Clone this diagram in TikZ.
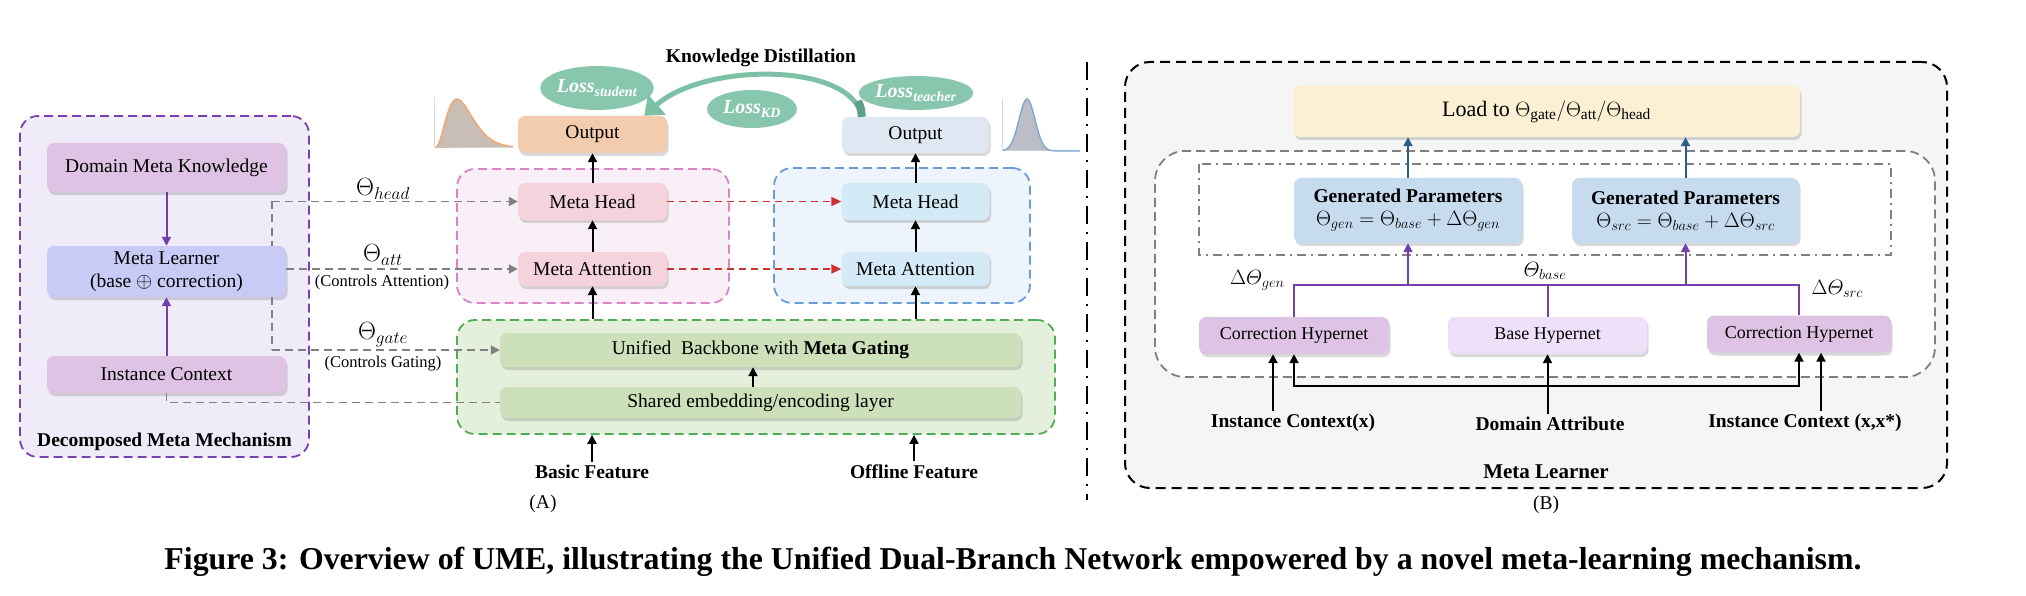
\documentclass[tikz,border=0pt]{standalone}
\usepackage{amsmath}
\usepackage{graphicx}
\usepackage{fontspec}
\setmainfont{Liberation Serif}
\usetikzlibrary{positioning,calc,arrows.meta,shadows,shapes.geometric}
\definecolor{mmfill}{HTML}{EFEBF8}
\definecolor{mmline}{HTML}{7B3FB2}
\definecolor{dmkfill}{HTML}{DFC3E5}
\definecolor{mlfill}{HTML}{C8CBF6}
\definecolor{purp}{HTML}{7340A8}
\definecolor{pinkline}{HTML}{DA84C6}
\definecolor{pinkfill}{HTML}{F9F0F7}
\definecolor{pinkbox}{HTML}{F5D3DC}
\definecolor{peach}{HTML}{F2CCAD}
\definecolor{blueline}{HTML}{6B9CD8}
\definecolor{bluefill}{HTML}{EDF4FB}
\definecolor{bluebox}{HTML}{D5EAF7}
\definecolor{toutfill}{HTML}{DFE8F2}
\definecolor{greenline}{HTML}{4DAF52}
\definecolor{greenfill}{HTML}{E5F0DC}
\definecolor{greenbox}{HTML}{CCE0BA}
\definecolor{redarr}{HTML}{CC3030}
\definecolor{loss}{HTML}{88C7AE}
\definecolor{kd}{HTML}{7CC1A6}
\definecolor{kddark}{HTML}{5E9F88}
\definecolor{panelfill}{HTML}{F5F5F5}
\definecolor{loadfill}{HTML}{FBF0D3}
\definecolor{genfill}{HTML}{C7DBEF}
\definecolor{basefill}{HTML}{EEE0F8}
\definecolor{navy}{HTML}{2E5C88}
\definecolor{studfill}{HTML}{C9BEB5}
\definecolor{studline}{HTML}{F2A469}
\definecolor{teachfill}{HTML}{BBBEC6}
\definecolor{teachline}{HTML}{7AA6D6}
\newcommand\fsz[2]{\fontsize{#1}{#2}\selectfont}

\begin{document}
\begin{tikzpicture}[x=1pt,y=-1pt,font=\fsz{19.5}{23},
  box/.style={rounded corners=7pt,align=center,inner sep=0pt,
    drop shadow={shadow xshift=1.5pt,shadow yshift=-3pt,opacity=.3}},
  cont/.style={rounded corners=18pt,line width=1.8pt,dash pattern=on 9pt off 5pt,inner sep=0pt},
  blk/.style={line width=2pt,-{Triangle[length=9pt,width=9pt]}},
  parr/.style={draw=purp,line width=2pt,-{Triangle[length=9pt,width=9pt]}},
  gdash/.style={draw=black!50,line width=1.8pt,dash pattern=on 8pt off 5pt},
  rdash/.style={draw=redarr,line width=1.6pt,dash pattern=on 7pt off 5pt,-{Triangle[length=10pt,width=9pt]}},
  lossnode/.style={ellipse,fill=loss,text=white,inner sep=0pt,font=\fsz{20}{24}\bfseries\itshape},
  lbl/.style={font=\fsz{19.5}{23}\bfseries},
  theta/.style={font=\fsz{23}{26}}]
\fill[white] (0,0) rectangle (2026,596);
\useasboundingbox (0,0) rectangle (2026,596);

% ---- (A) left: decomposed meta mechanism
\node[cont,draw=mmline,fill=mmfill,minimum width=289pt,minimum height=341pt] (dmm) at (164.5,286.5) {};
\node[box,fill=dmkfill,minimum width=239pt,minimum height=49pt] (dmk) at (166.5,167.5) {Domain Meta Knowledge};
\node[box,fill=mlfill,minimum width=239pt,minimum height=51pt] (ml) at (166.5,271.5) {Meta Learner\\(base $\oplus$ correction)};
\node[box,fill=dmkfill,minimum width=239pt,minimum height=37pt] (ic) at (166.5,374.5) {Instance Context};
\node[lbl] at (164.5,442) {Decomposed Meta Mechanism};
\draw[parr] (dmk) -- (ml);
\draw[parr] (ic) -- (ml);

% ---- (A) dual branch
\node[cont,draw=pinkline,fill=pinkfill,minimum width=272pt,minimum height=134pt] (stu) at (593,236) {};
\node[cont,draw=blueline,fill=bluefill,minimum width=256pt,minimum height=135pt] (tea) at (902,235.5) {};
\node[cont,draw=greenline,fill=greenfill,minimum width=598pt,minimum height=114pt] (bb) at (756,377) {};

\node[box,fill=peach,minimum width=149pt,minimum height=37pt] (sout) at (592.5,134.5) {Output};
\node[box,fill=pinkbox,minimum width=149pt,minimum height=37pt] (smh) at (592.5,201.5) {Meta Head};
\node[box,fill=pinkbox,minimum width=149pt,minimum height=34pt] (sma) at (592.5,269) {Meta Attention};
\node[box,fill=toutfill,minimum width=147pt,minimum height=36pt] (tout) at (915.5,135) {Output};
\node[box,fill=bluebox,minimum width=148pt,minimum height=37pt] (tmh) at (915.5,201.5) {Meta Head};
\node[box,fill=bluebox,minimum width=148pt,minimum height=34pt] (tma) at (915.5,269) {Meta Attention};
\node[box,fill=greenbox,minimum width=521pt,minimum height=34pt] (ub) at (760.5,350) {Unified\ \ Backbone with \textbf{Meta Gating}};
\node[box,fill=greenbox,minimum width=521pt,minimum height=31pt] (se) at (760.5,402.5) {Shared embedding/encoding layer};

\draw[blk] (smh) -- (sout);
\draw[blk] (sma) -- (smh);
\draw[blk] (sma.south |- bb.north) -- (sma.south);
\draw[blk] (tmh) -- (tout);
\draw[blk] (tma) -- (tmh);
\draw[blk] (tma.south |- bb.north) -- (tma.south);
\draw[blk] ([xshift=-7.5pt]se.north) -- ([xshift=-7.5pt]ub.south);
\draw[rdash] (smh) -- (tmh);
\draw[rdash] (sma) -- (tma);

\node[lbl] (bf) at (592,472) {Basic Feature};
\node[lbl] (of) at (914,472) {Offline Feature};
\draw[blk] (bf.north) -- (bf.north |- bb.south);
\draw[blk] (of.north) -- (of.north |- bb.south);
\node at (543,504) {(A)};

% ---- meta parameters fed into the branch
\coordinate (tap) at (272,201.5);
\draw[gdash] (tap) -- (tap |- ml.north);
\draw[gdash] (tap |- ml.south) -- (tap |- ub.west);
\draw[gdash,-{Triangle[length=9pt,width=9pt]}] (tap) -- (smh.west);
\draw[gdash,-{Triangle[length=9pt,width=9pt]}] (ml.east |- sma.west) -- (sma.west);
\draw[gdash,-{Triangle[length=9pt,width=9pt]}] (tap |- ub.west) -- (ub.west);
\draw[gdash] (ic.south) |- (se.west);
\node[theta] at (383,189) {$\Theta_{head}$};
\node[theta] at (383,255) {$\Theta_{att}$};
\node[font=\fsz{16.5}{20}] at (382,283) {(Controls Attention)};
\node[theta] at (383,335) {$\Theta_{gate}$};
\node[font=\fsz{16.5}{20}] at (383,364) {(Controls Gating)};

% ---- output distributions
\draw[black!15,line width=1pt] (434,97) -- (434,148) -- (513,148);
\fill[studfill] plot[domain=0.02:1,samples=60] ({434+79*\x},{148-49*(\x/0.29)^3*exp(3*(1-\x/0.29))}) -- (434,148) -- cycle;
\draw[studline,line width=1.3pt] plot[domain=0.02:1,samples=60] ({434+79*\x},{148-49*(\x/0.29)^3*exp(3*(1-\x/0.29))});
\draw[black!15,line width=1pt] (1002,99) -- (1002,151) -- (1080,151);
\fill[teachfill] plot[domain=1003:1080,samples=70] (\x,{151-52*exp(-((\x-1027)/8)^2/2)}) -- cycle;
\draw[teachline,line width=1.3pt] plot[domain=1003:1080,samples=70] (\x,{151-52*exp(-((\x-1027)/8)^2/2)});

% ---- knowledge distillation
\node[lbl] at (761,58) {Knowledge Distillation};
\node[lossnode,minimum width=90pt,minimum height=44pt] (lstu) at (597,88) {Loss\textsubscript{student}};
\node[lossnode,minimum width=90pt,minimum height=38pt] (lkd) at (752,109) {Loss\textsubscript{KD}};
\node[lossnode,minimum width=88pt,minimum height=34pt] (ltea) at (916,93) {Loss\textsubscript{teacher}};
\draw[kd,line width=5pt,-{Triangle[length=17pt,width=26pt]}] ($(tout.north west)+(20,0)$) .. controls (852,62) and (705,62) .. ($(sout.north east)+(-23,0)$);
\draw[kddark,line width=8pt] ($(tout.north west)+(20,0)$) .. controls (861,108) .. (858,101);

% ---- separator
\draw[line width=2pt,dash pattern=on 18pt off 8pt on 2pt off 8pt] (1087,62) -- (1087,500);

% ---- (B) meta learner
\node[rounded corners=25pt,draw=black,fill=panelfill,line width=2pt,dash pattern=on 10pt off 6pt,minimum width=822pt,minimum height=426pt,inner sep=0pt] (mlp) at (1536,275) {};
\node[rounded corners=30pt,draw=black!50,fill=white,line width=1.8pt,dash pattern=on 9pt off 5pt,minimum width=780pt,minimum height=226pt,inner sep=0pt] (hyp) at (1545,264) {};
\draw[black!50,line width=1.6pt,dash pattern=on 9pt off 5pt on 2pt off 5pt] (1199,164) rectangle (1891,255);

\node[box,fill=loadfill,minimum width=507pt,minimum height=51pt,font=\fsz{22}{26}] (load) at (1546.5,111.5) {Load to $\Theta_{\mathrm{gate}}/\Theta_{\mathrm{att}}/\Theta_{\mathrm{head}}$};
\node[box,fill=genfill,minimum width=228pt,minimum height=65pt] (gl) at (1408,210.5) {\textbf{Generated Parameters}\\$\Theta_{gen}=\Theta_{base}+\Delta\Theta_{gen}$};
\node[box,fill=genfill,minimum width=227pt,minimum height=65pt] (gr) at (1685.5,210.5) {\textbf{Generated Parameters}\\$\Theta_{src}=\Theta_{base}+\Delta\Theta_{src}$};
\node[box,fill=dmkfill,minimum width=190pt,minimum height=37pt,font=\fsz{18}{21}] (lc) at (1294,335.5) {Correction Hypernet};
\node[box,fill=basefill,minimum width=199pt,minimum height=37pt,font=\fsz{18}{21}] (bh) at (1547.5,335.5) {Base Hypernet};
\node[box,fill=dmkfill,minimum width=184pt,minimum height=37pt,font=\fsz{18}{21}] (rc) at (1799,334) {Correction Hypernet};

\draw[navy,line width=2pt,-{Triangle[length=9pt,width=9pt]}] (gl) -- (gl |- load.south);
\draw[navy,line width=2pt,-{Triangle[length=9pt,width=9pt]}] (gr) -- (gr |- load.south);

\coordinate (bus) at (1547.5,285);
\draw[purp,line width=2pt] (lc.north) |- (bus) -| (rc.north);
\draw[purp,line width=2pt] (bh.north) -- (bus);
\draw[parr] (bus -| gl.south) -- (gl.south);
\draw[parr] (bus -| gr.south) -- (gr.south);
\node[font=\fsz{20}{24},anchor=east] at (1288,280) {$\Delta\varTheta_{gen}$};
\node[font=\fsz{20}{24}] at (1545,271) {$\varTheta_{base}$};
\node[font=\fsz{20}{24},anchor=west] at (1808,289) {$\Delta\varTheta_{src}$};

\node[lbl] (ix) at (1293,423) {Instance Context(x)};
\node[lbl] (da) at (1550,424) {Domain Attribute};
\node[lbl] (ixx) at (1805,423) {Instance Context (x,x*)};
\coordinate (icx) at ($(lc.south)+(-21,0)$);
\coordinate (icxx) at ($(rc.south)+(22,0)$);
\coordinate (split) at (1547.5,386);
\draw[blk] (icx |- ix.north) -- (icx);
\draw[blk] (icxx |- ixx.north) -- (icxx);
\draw[blk] (bh.south |- da.north) -- (bh.south);
\draw[blk] (split) -| (lc.south);
\draw[blk] (split) -| (rc.south);
\node[font=\fsz{21}{25}\bfseries] at (1546,472) {Meta Learner};
\node at (1546,505) {(B)};

% ---- caption
\node at (1013,562) {\resizebox{1697pt}{!}{\bfseries Figure 3: Overview of UME, illustrating the Unified Dual-Branch Network empowered by a novel meta-learning mechanism.}};
\end{tikzpicture}
\end{document}
